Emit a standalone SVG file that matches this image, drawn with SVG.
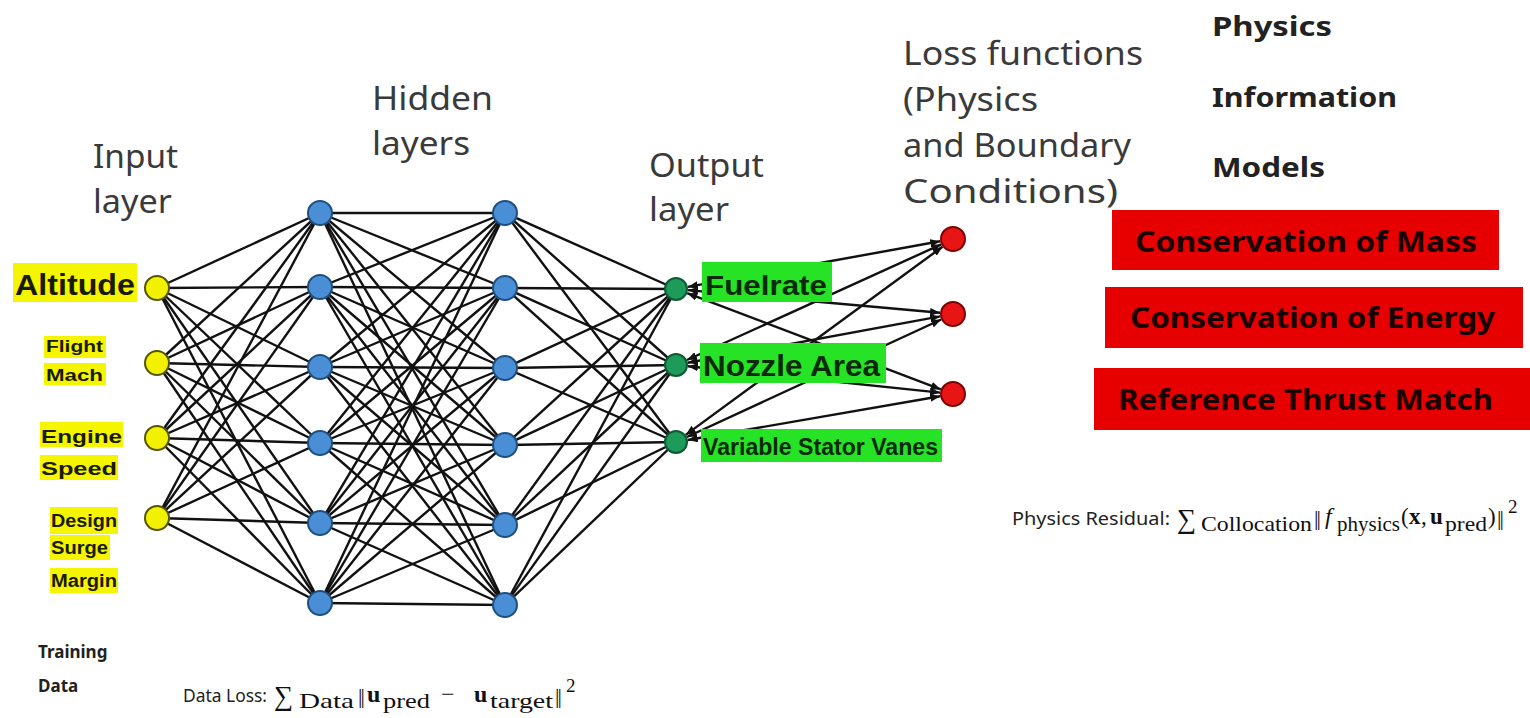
<svg xmlns="http://www.w3.org/2000/svg" width="1530" height="718" viewBox="0 0 1530 718">
<defs>
<style>
.hdr{font-family:"Noto Sans","Open Sans","Liberation Sans",sans-serif;font-size:33px;fill:#3a3a3a}
.pim{font-family:"Noto Sans","Open Sans","Liberation Sans",sans-serif;font-size:27px;font-weight:bold;fill:#222}
.red{fill:#e60000}
.redt{font-family:"Noto Sans","Liberation Sans",sans-serif;font-size:28px;font-weight:bold;fill:#1a0000}
.ylw{fill:#f5f500}
.ylt{font-family:"Liberation Sans","Noto Sans",sans-serif;font-weight:bold;fill:#1a1a00}
.grn{fill:#26e326}
.grt{font-family:"Liberation Sans","Noto Sans",sans-serif;font-weight:bold;fill:#0a2a0a}
.e{stroke:#111;stroke-width:2.4}
.ea{stroke:#111;stroke-width:2.4;marker-end:url(#ah);marker-start:url(#ah)}
.ni{fill:#f2f200;stroke:#555500;stroke-width:2}
.nh{fill:#4a8fd6;stroke:#1d4f80;stroke-width:2}
.no{fill:#1e9a5a;stroke:#0d5a33;stroke-width:2}
.nl{fill:#e81515;stroke:#7a0000;stroke-width:2}
.sans{font-family:"Noto Sans","Open Sans","Liberation Sans",sans-serif;fill:#222}
.bl{font-family:"Noto Sans","Open Sans","Liberation Sans",sans-serif;font-weight:bold;fill:#222}
.m{font-family:"Liberation Serif","DejaVu Serif",serif;fill:#111}
</style>
<marker id="ah" viewBox="0 0 10 8" refX="10" refY="4" markerWidth="10" markerHeight="8" markerUnits="userSpaceOnUse" orient="auto-start-reverse">
<path d="M0,0 L10,4 L0,8 z" fill="#111"/>
</marker>
</defs>
<rect width="1530" height="718" fill="#ffffff"/>

<g id="connectors">
<line class="e" x1="157" y1="288" x2="320" y2="213"/><line class="e" x1="157" y1="288" x2="320" y2="287"/><line class="e" x1="157" y1="288" x2="320" y2="367"/><line class="e" x1="157" y1="288" x2="320" y2="443"/><line class="e" x1="157" y1="288" x2="320" y2="523"/><line class="e" x1="157" y1="288" x2="320" y2="603"/>
<line class="e" x1="157" y1="363" x2="320" y2="213"/><line class="e" x1="157" y1="363" x2="320" y2="287"/><line class="e" x1="157" y1="363" x2="320" y2="367"/><line class="e" x1="157" y1="363" x2="320" y2="443"/><line class="e" x1="157" y1="363" x2="320" y2="523"/><line class="e" x1="157" y1="363" x2="320" y2="603"/>
<line class="e" x1="157" y1="438" x2="320" y2="213"/><line class="e" x1="157" y1="438" x2="320" y2="287"/><line class="e" x1="157" y1="438" x2="320" y2="367"/><line class="e" x1="157" y1="438" x2="320" y2="443"/><line class="e" x1="157" y1="438" x2="320" y2="523"/><line class="e" x1="157" y1="438" x2="320" y2="603"/>
<line class="e" x1="157" y1="518" x2="320" y2="213"/><line class="e" x1="157" y1="518" x2="320" y2="287"/><line class="e" x1="157" y1="518" x2="320" y2="367"/><line class="e" x1="157" y1="518" x2="320" y2="443"/><line class="e" x1="157" y1="518" x2="320" y2="523"/><line class="e" x1="157" y1="518" x2="320" y2="603"/>

<line class="e" x1="320" y1="213" x2="505" y2="213"/><line class="e" x1="320" y1="213" x2="505" y2="288"/><line class="e" x1="320" y1="213" x2="505" y2="368"/><line class="e" x1="320" y1="213" x2="505" y2="445"/><line class="e" x1="320" y1="213" x2="505" y2="525"/><line class="e" x1="320" y1="213" x2="505" y2="605"/>
<line class="e" x1="320" y1="287" x2="505" y2="213"/><line class="e" x1="320" y1="287" x2="505" y2="288"/><line class="e" x1="320" y1="287" x2="505" y2="368"/><line class="e" x1="320" y1="287" x2="505" y2="445"/><line class="e" x1="320" y1="287" x2="505" y2="525"/><line class="e" x1="320" y1="287" x2="505" y2="605"/>
<line class="e" x1="320" y1="367" x2="505" y2="213"/><line class="e" x1="320" y1="367" x2="505" y2="288"/><line class="e" x1="320" y1="367" x2="505" y2="368"/><line class="e" x1="320" y1="367" x2="505" y2="445"/><line class="e" x1="320" y1="367" x2="505" y2="525"/><line class="e" x1="320" y1="367" x2="505" y2="605"/>
<line class="e" x1="320" y1="443" x2="505" y2="213"/><line class="e" x1="320" y1="443" x2="505" y2="288"/><line class="e" x1="320" y1="443" x2="505" y2="368"/><line class="e" x1="320" y1="443" x2="505" y2="445"/><line class="e" x1="320" y1="443" x2="505" y2="525"/><line class="e" x1="320" y1="443" x2="505" y2="605"/>
<line class="e" x1="320" y1="523" x2="505" y2="213"/><line class="e" x1="320" y1="523" x2="505" y2="288"/><line class="e" x1="320" y1="523" x2="505" y2="368"/><line class="e" x1="320" y1="523" x2="505" y2="445"/><line class="e" x1="320" y1="523" x2="505" y2="525"/><line class="e" x1="320" y1="523" x2="505" y2="605"/>
<line class="e" x1="320" y1="603" x2="505" y2="213"/><line class="e" x1="320" y1="603" x2="505" y2="288"/><line class="e" x1="320" y1="603" x2="505" y2="368"/><line class="e" x1="320" y1="603" x2="505" y2="445"/><line class="e" x1="320" y1="603" x2="505" y2="525"/><line class="e" x1="320" y1="603" x2="505" y2="605"/>

<line class="e" x1="505" y1="213" x2="676" y2="289"/><line class="e" x1="505" y1="213" x2="676" y2="365"/><line class="e" x1="505" y1="213" x2="676" y2="442"/>
<line class="e" x1="505" y1="288" x2="676" y2="289"/><line class="e" x1="505" y1="288" x2="676" y2="365"/><line class="e" x1="505" y1="288" x2="676" y2="442"/>
<line class="e" x1="505" y1="368" x2="676" y2="289"/><line class="e" x1="505" y1="368" x2="676" y2="365"/><line class="e" x1="505" y1="368" x2="676" y2="442"/>
<line class="e" x1="505" y1="445" x2="676" y2="289"/><line class="e" x1="505" y1="445" x2="676" y2="365"/><line class="e" x1="505" y1="445" x2="676" y2="442"/>
<line class="e" x1="505" y1="525" x2="676" y2="289"/><line class="e" x1="505" y1="525" x2="676" y2="365"/><line class="e" x1="505" y1="525" x2="676" y2="442"/>
<line class="e" x1="505" y1="605" x2="676" y2="289"/><line class="e" x1="505" y1="605" x2="676" y2="365"/><line class="e" x1="505" y1="605" x2="676" y2="442"/>

<line class="ea" x1="687.8" y1="286.9" x2="940.2" y2="241.3"/>
<line class="ea" x1="688.0" y1="290.1" x2="940.1" y2="312.8"/>
<line class="ea" x1="687.2" y1="293.2" x2="940.8" y2="389.4"/>
<line class="ea" x1="686.9" y1="360.0" x2="941.2" y2="244.4"/>
<line class="ea" x1="687.8" y1="362.8" x2="940.2" y2="316.4"/>
<line class="ea" x1="687.9" y1="366.2" x2="940.1" y2="392.6"/>
<line class="ea" x1="685.7" y1="434.9" x2="942.5" y2="246.7"/>
<line class="ea" x1="686.9" y1="437.0" x2="941.2" y2="319.5"/>
<line class="ea" x1="687.8" y1="440.0" x2="940.2" y2="396.2"/>
</g>

<g id="headers">
<text class="hdr" x="93" y="168" textLength="85" lengthAdjust="spacingAndGlyphs">Input</text>
<text class="hdr" x="93" y="213" textLength="79" lengthAdjust="spacingAndGlyphs">layer</text>
<text class="hdr" x="372" y="110" textLength="121" lengthAdjust="spacingAndGlyphs">Hidden</text>
<text class="hdr" x="372" y="155" textLength="98" lengthAdjust="spacingAndGlyphs">layers</text>
<text class="hdr" x="649" y="177" textLength="115" lengthAdjust="spacingAndGlyphs">Output</text>
<text class="hdr" x="649" y="221" textLength="80" lengthAdjust="spacingAndGlyphs">layer</text>
<text class="hdr" x="903" y="65" textLength="240" lengthAdjust="spacingAndGlyphs">Loss functions</text>
<text class="hdr" x="903" y="111" textLength="135" lengthAdjust="spacingAndGlyphs">(Physics</text>
<text class="hdr" x="903" y="157" textLength="228" lengthAdjust="spacingAndGlyphs">and Boundary</text>
<text class="hdr" x="903" y="203" textLength="215" lengthAdjust="spacingAndGlyphs">Conditions)</text>
</g>

<g id="pim-title">
<text class="pim" x="1212" y="36" textLength="120" lengthAdjust="spacingAndGlyphs">Physics</text>
<text class="pim" x="1212" y="107" textLength="185" lengthAdjust="spacingAndGlyphs">Information</text>
<text class="pim" x="1212" y="177" textLength="113" lengthAdjust="spacingAndGlyphs">Models</text>
</g>

<g id="box-mass">
<rect class="red" x="1112" y="210" width="387" height="60"/>
<text class="redt" x="1135" y="252" textLength="342" lengthAdjust="spacingAndGlyphs">Conservation of Mass</text>
</g>
<g id="box-energy">
<rect class="red" x="1105" y="287" width="418" height="61"/>
<text class="redt" x="1130" y="328" textLength="365" lengthAdjust="spacingAndGlyphs">Conservation of Energy</text>
</g>
<g id="box-thrust">
<rect class="red" x="1094" y="368" width="436" height="62"/>
<text class="redt" x="1118" y="410" textLength="375" lengthAdjust="spacingAndGlyphs">Reference Thrust Match</text>
</g>

<g id="input-labels">
<rect class="ylw" x="13" y="263" width="124" height="39"/>
<text class="ylt" x="15" y="295" font-size="29" textLength="120" lengthAdjust="spacingAndGlyphs">Altitude</text>
<rect class="ylw" x="44" y="336" width="62" height="22"/>
<text class="ylt" x="46" y="352" font-size="16" textLength="57" lengthAdjust="spacingAndGlyphs">Flight</text>
<rect class="ylw" x="44" y="363" width="62" height="22"/>
<text class="ylt" x="46" y="381" font-size="16" textLength="57" lengthAdjust="spacingAndGlyphs">Mach</text>
<rect class="ylw" x="40" y="422" width="83" height="25"/>
<text class="ylt" x="41" y="443" font-size="19" textLength="81" lengthAdjust="spacingAndGlyphs">Engine</text>
<rect class="ylw" x="40" y="455" width="78" height="25"/>
<text class="ylt" x="41" y="475" font-size="19" textLength="76" lengthAdjust="spacingAndGlyphs">Speed</text>
<rect class="ylw" x="50" y="507" width="68" height="27"/>
<text class="ylt" x="51" y="527" font-size="18" textLength="66" lengthAdjust="spacingAndGlyphs">Design</text>
<rect class="ylw" x="50" y="535" width="60" height="25"/>
<text class="ylt" x="51" y="554" font-size="18" textLength="57" lengthAdjust="spacingAndGlyphs">Surge</text>
<rect class="ylw" x="50" y="568" width="68" height="25"/>
<text class="ylt" x="51" y="587" font-size="18" textLength="66" lengthAdjust="spacingAndGlyphs">Margin</text>
</g>

<g id="input-nodes">
<circle class="ni" cx="157" cy="288" r="12"/>
<circle class="ni" cx="157" cy="363" r="12"/>
<circle class="ni" cx="157" cy="438" r="12"/>
<circle class="ni" cx="157" cy="518" r="12"/>
</g>
<g id="hidden-layer-1">
<circle class="nh" cx="320" cy="213" r="12"/>
<circle class="nh" cx="320" cy="287" r="12"/>
<circle class="nh" cx="320" cy="367" r="12"/>
<circle class="nh" cx="320" cy="443" r="12"/>
<circle class="nh" cx="320" cy="523" r="12"/>
<circle class="nh" cx="320" cy="603" r="12"/>
</g>
<g id="hidden-layer-2">
<circle class="nh" cx="505" cy="213" r="12"/>
<circle class="nh" cx="505" cy="288" r="12"/>
<circle class="nh" cx="505" cy="368" r="12"/>
<circle class="nh" cx="505" cy="445" r="12"/>
<circle class="nh" cx="505" cy="525" r="12"/>
<circle class="nh" cx="505" cy="605" r="12"/>
</g>
<g id="output-nodes">
<circle class="no" cx="676" cy="289" r="11"/>
<circle class="no" cx="676" cy="365" r="11"/>
<circle class="no" cx="676" cy="442" r="11"/>
</g>
<g id="output-labels">
<rect class="grn" x="702" y="262" width="130" height="40"/>
<text class="grt" x="705" y="295" font-size="28" textLength="122" lengthAdjust="spacingAndGlyphs">Fuelrate</text>
<rect class="grn" x="700" y="343" width="186" height="40"/>
<text class="grt" x="703" y="376" font-size="30" textLength="177" lengthAdjust="spacingAndGlyphs">Nozzle Area</text>
<rect class="grn" x="701" y="429" width="241" height="33"/>
<text class="grt" x="703" y="455" font-size="23" textLength="235" lengthAdjust="spacingAndGlyphs">Variable Stator Vanes</text>
</g>
<g id="loss-nodes">
<circle class="nl" cx="953" cy="239" r="12"/>
<circle class="nl" cx="953" cy="314" r="12"/>
<circle class="nl" cx="953" cy="394" r="12"/>
</g>

<g id="training-data">
<text class="bl" x="38" y="658" font-size="17">Training</text>
<text class="bl" x="38" y="692" font-size="17">Data</text>
</g>

<g id="data-loss">
<text class="sans" x="183" y="702" font-size="18" textLength="84" lengthAdjust="spacingAndGlyphs">Data Loss:</text>
<text class="m" x="274" y="705" font-size="27">∑</text>
<text class="m" x="299" y="708" font-size="22" textLength="55" lengthAdjust="spacingAndGlyphs">Data</text>
<text class="m" x="358" y="703" font-size="22" letter-spacing="-2">||</text>
<text class="m" x="367" y="702" font-size="24" font-weight="bold">u</text>
<text class="m" x="383" y="708" font-size="22" textLength="47" lengthAdjust="spacingAndGlyphs">pred</text>
<text class="m" x="441" y="702" font-size="24">−</text>
<text class="m" x="474" y="702" font-size="24" font-weight="bold">u</text>
<text class="m" x="490" y="708" font-size="22" textLength="63" lengthAdjust="spacingAndGlyphs">target</text>
<text class="m" x="555" y="703" font-size="22" letter-spacing="-2">||</text>
<text class="m" x="566" y="692" font-size="19">2</text>
</g>

<g id="physics-residual">
<text class="sans" x="1012" y="525" font-size="18" textLength="158" lengthAdjust="spacingAndGlyphs">Physics Residual:</text>
<text class="m" x="1177" y="528" font-size="27">∑</text>
<text class="m" x="1201" y="531" font-size="22" textLength="111" lengthAdjust="spacingAndGlyphs">Collocation</text>
<text class="m" x="1314" y="525" font-size="22" letter-spacing="-2">||</text>
<text class="m" x="1325" y="524" font-size="24" font-style="italic">f</text>
<text class="m" x="1337" y="531" font-size="22" textLength="63" lengthAdjust="spacingAndGlyphs">physics</text>
<text class="m" x="1401" y="524" font-size="23">(</text>
<text class="m" x="1409" y="524" font-size="23" font-weight="bold">x</text>
<text class="m" x="1421" y="524" font-size="23">,</text>
<text class="m" x="1430" y="524" font-size="23" font-weight="bold">u</text>
<text class="m" x="1445" y="531" font-size="21" textLength="42" lengthAdjust="spacingAndGlyphs">pred</text>
<text class="m" x="1488" y="524" font-size="23">)</text>
<text class="m" x="1497" y="525" font-size="22" letter-spacing="-2">||</text>
<text class="m" x="1508" y="513" font-size="19">2</text>
</g>
</svg>
